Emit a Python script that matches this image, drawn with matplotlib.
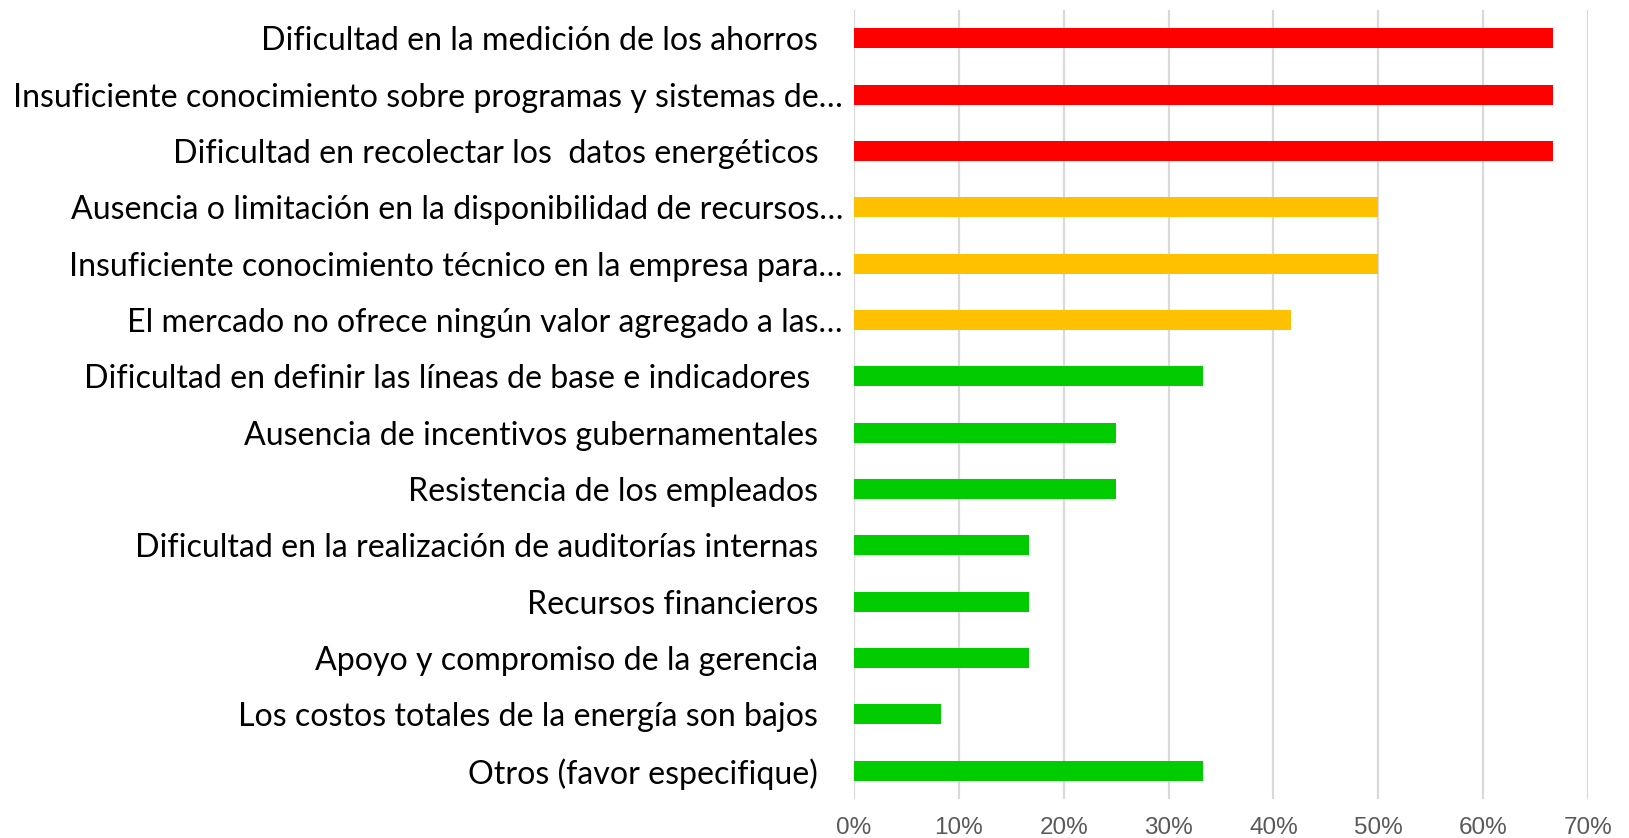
import matplotlib
matplotlib.use("Agg")
import matplotlib.pyplot as plt
from matplotlib import font_manager as fm
from matplotlib.ticker import FuncFormatter

categories = [
    "Dificultad en la medición de los ahorros   ",
    "Insuficiente conocimiento sobre programas y sistemas de…",
    "Dificultad en recolectar los  datos energéticos   ",
    "Ausencia o limitación en la disponibilidad de recursos…",
    "Insuficiente conocimiento técnico en la empresa para…",
    "El mercado no ofrece ningún valor agregado a las…",
    "Dificultad en definir las líneas de base e indicadores    ",
    "Ausencia de incentivos gubernamentales   ",
    "Resistencia de los empleados   ",
    "Dificultad en la realización de auditorías internas   ",
    "Recursos financieros   ",
    "Apoyo y compromiso de la gerencia   ",
    "Los costos totales de la energía son bajos   ",
    "Otros (favor especifique)   ",
]
values = [0.667, 0.667, 0.667, 0.50, 0.50, 0.417, 0.333, 0.25, 0.25,
          0.167, 0.167, 0.167, 0.083, 0.333]
bar_colors = ["#FF0000"] * 3 + ["#FFC000"] * 3 + ["#00CC00"] * 8
xticks = [0, 0.1, 0.2, 0.3, 0.4, 0.5, 0.6, 0.7]

avail = {f.name for f in fm.fontManager.ttflist}
label_font = "Lato" if "Lato" in avail else "DejaVu Sans"
tick_font = "Liberation Sans Narrow" if "Liberation Sans Narrow" in avail else "Liberation Sans"

fig = plt.figure(figsize=(16.29, 8.38), dpi=100)
ax = fig.add_axes([854 / 1629, 1 - 799 / 838, (1588 - 854) / 1629, (799 - 10) / 838])

ypos = list(range(len(categories)))
ax.barh(ypos, values, height=0.355, color=bar_colors, zorder=3)
ax.set_ylim(len(categories) - 0.5, -0.5)
ax.set_xlim(0, 0.7)
ax.set_xticks(xticks)
ax.xaxis.set_major_formatter(FuncFormatter(lambda v, p: f"{v*100:.0f}%"))
ax.set_yticks(ypos)
ax.set_yticklabels(categories, fontfamily=label_font, fontsize=23.1, color="#000000")
for t in ax.get_xticklabels():
    t.set_fontfamily(tick_font)
    t.set_fontsize(17.5)
    t.set_color("#595959")
ax.tick_params(axis="y", length=0, pad=8)
ax.tick_params(axis="x", length=0, pad=13)
ax.grid(axis="x", color="#D9D9D9", linewidth=1.6, zorder=0)
for s in ax.spines.values():
    s.set_visible(False)

fig.savefig("out.png", dpi=100)
